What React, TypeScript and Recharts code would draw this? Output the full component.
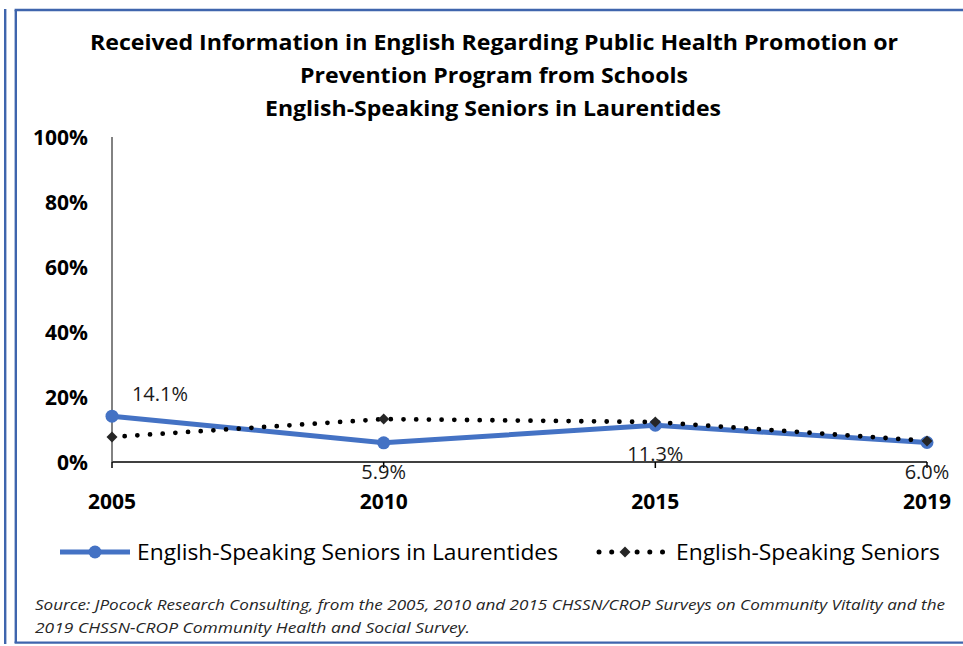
import React from 'react';
import { LineChart, Line, XAxis, YAxis, Legend, LabelList } from 'recharts';

const years = ['2005', '2010', '2015', '2019'];
const laurentides = [14.1, 5.9, 11.3, 6.0];
const allSeniors = [7.7, 13.2, 12.3, 6.5];
const yTicks = [0, 20, 40, 60, 80, 100];
const titleLines = [
  'Received Information in English Regarding Public Health Promotion or',
  'Prevention Program from Schools',
  'English-Speaking Seniors in Laurentides',
];
const seriesNames = ['English-Speaking Seniors in Laurentides', 'English-Speaking Seniors'];
const sourceLines = [
  'Source: JPocock Research Consulting, from the 2005, 2010  and 2015  CHSSN/CROP Surveys on Community Vitality and the',
  '2019  CHSSN-CROP Community Health and Social Survey.',
];

const data = years.map((y, i) => ({ year: y, laur: laurentides[i], all: allSeniors[i] }));

const BLUE = '#4472C4';
const BORDER = '#3F65AD';
const FONT = '"Open Sans", "Noto Sans", sans-serif';

const renderXTick = (props: any) => {
  const { x, payload } = props;
  return (
    <text x={x} y={509} textAnchor="middle" fontFamily={FONT} fontWeight={700} fontSize={21} fill="#000">
      {payload.value}
    </text>
  );
};

const renderYTick = (props: any) => {
  const { y, payload } = props;
  return (
    <text x={88} y={y + 8} textAnchor="end" fontFamily={FONT} fontWeight={700} fontSize={21} fill="#000">
      {payload.value}%
    </text>
  );
};

const renderDiamond = (props: any) => {
  const { cx, cy, index } = props;
  if (cx == null || cy == null) return <g key={`d${index}`} />;
  const s = 5.5;
  return (
    <polygon
      key={`d${index}`}
      points={`${cx},${cy - s} ${cx + s},${cy} ${cx},${cy + s} ${cx - s},${cy}`}
      fill="#262626"
    />
  );
};

const renderBlueLabel = (props: any) => {
  const { x, y, value, index } = props;
  const lx = index === 0 ? x + 48 : x;
  const ly = index === 0 ? y - 15 : y + 36;
  return (
    <text key={`l${index}`} x={lx} y={ly} textAnchor="middle" fontFamily={FONT} fontSize={20} fill="#1a1a1a">
      {Number(value).toFixed(1)}%
    </text>
  );
};

const renderLegend = () => {
  const dots: number[] = [];
  for (let x = 599; x <= 668; x += 12.7) dots.push(x);
  return (
    <svg width={963} height={36} style={{ display: 'block' }}>
      <line x1={60} y1={17} x2={130} y2={17} stroke={BLUE} strokeWidth={5} />
      <circle cx={95} cy={17} r={6.5} fill={BLUE} />
      <text x={137} y={25} fontFamily={FONT} fontSize={22} fill="#000" textLength={421} lengthAdjust="spacingAndGlyphs">
        {seriesNames[0]}
      </text>
      {dots.map((d, i) => (
        <circle key={i} cx={d} cy={17} r={2.5} fill="#000" />
      ))}
      <polygon points="625,11.5 630.5,17 625,22.5 619.5,17" fill="#262626" />
      <text x={676} y={25} fontFamily={FONT} fontSize={22} fill="#000" textLength={264} lengthAdjust="spacingAndGlyphs">
        {seriesNames[1]}
      </text>
    </svg>
  );
};

export default function App() {
  return (
    <div style={{ position: 'absolute', left: 0, top: 0, width: 963, height: 646, background: '#fff' }}>
      <LineChart width={963} height={646} data={data} margin={{ top: 137, right: 36, bottom: 108, left: 32 }}>
        <XAxis
          dataKey="year"
          height={40}
          tick={renderXTick}
          tickSize={6}
          stroke="#000"
          strokeWidth={1.5}
          interval={0}
        />
        <YAxis
          width={80}
          domain={[0, 100]}
          ticks={yTicks}
          tick={renderYTick}
          tickLine={false}
          stroke="#595959"
          strokeWidth={1.5}
        />
        <Line
          type="linear"
          dataKey="laur"
          name={seriesNames[0]}
          stroke={BLUE}
          strokeWidth={5}
          dot={{ r: 6.5, fill: BLUE, stroke: BLUE, strokeWidth: 0 }}
          activeDot={false}
          isAnimationActive={false}
        >
          <LabelList dataKey="laur" content={renderBlueLabel} />
        </Line>
        <Line
          type="linear"
          dataKey="all"
          name={seriesNames[1]}
          stroke="#000"
          strokeWidth={4.8}
          strokeLinecap="round"
          strokeDasharray="0 12.7"
          dot={renderDiamond}
          activeDot={false}
          isAnimationActive={false}
        />
        <Legend content={renderLegend} wrapperStyle={{ top: 535, left: 0, width: 963, height: 36 }} />
      </LineChart>
      <svg width={963} height={646} style={{ position: 'absolute', left: 0, top: 0, pointerEvents: 'none' }}>
        <line x1={5.2} y1={9} x2={5.2} y2={644} stroke={BORDER} strokeWidth={2.4} />
        <line x1={15.8} y1={10} x2={15.8} y2={643} stroke={BORDER} strokeWidth={2.4} />
        <line x1={14.6} y1={10} x2={963} y2={10} stroke={BORDER} strokeWidth={2.4} />
        <line x1={14.6} y1={642.6} x2={963} y2={642.6} stroke={BORDER} strokeWidth={2.4} />
        {titleLines.map((t, i) => {
          const widths = [808, 388, 456];
          const xs = [90, 300, 265];
          return (
            <text
              key={i}
              x={xs[i]}
              y={50 + i * 33}
              fontFamily={FONT}
              fontWeight={700}
              fontSize={22}
              fill="#000"
              textLength={widths[i]}
              lengthAdjust="spacingAndGlyphs"
            >
              {t}
            </text>
          );
        })}
        {sourceLines.map((t, i) => (
          <text
            key={i}
            x={35}
            y={610 + i * 23}
            fontFamily={FONT}
            fontStyle="italic"
            fontSize={15}
            fill="#262626"
            textLength={i === 0 ? 910 : 435}
            lengthAdjust="spacingAndGlyphs"
          >
            {t}
          </text>
        ))}
      </svg>
    </div>
  );
}
